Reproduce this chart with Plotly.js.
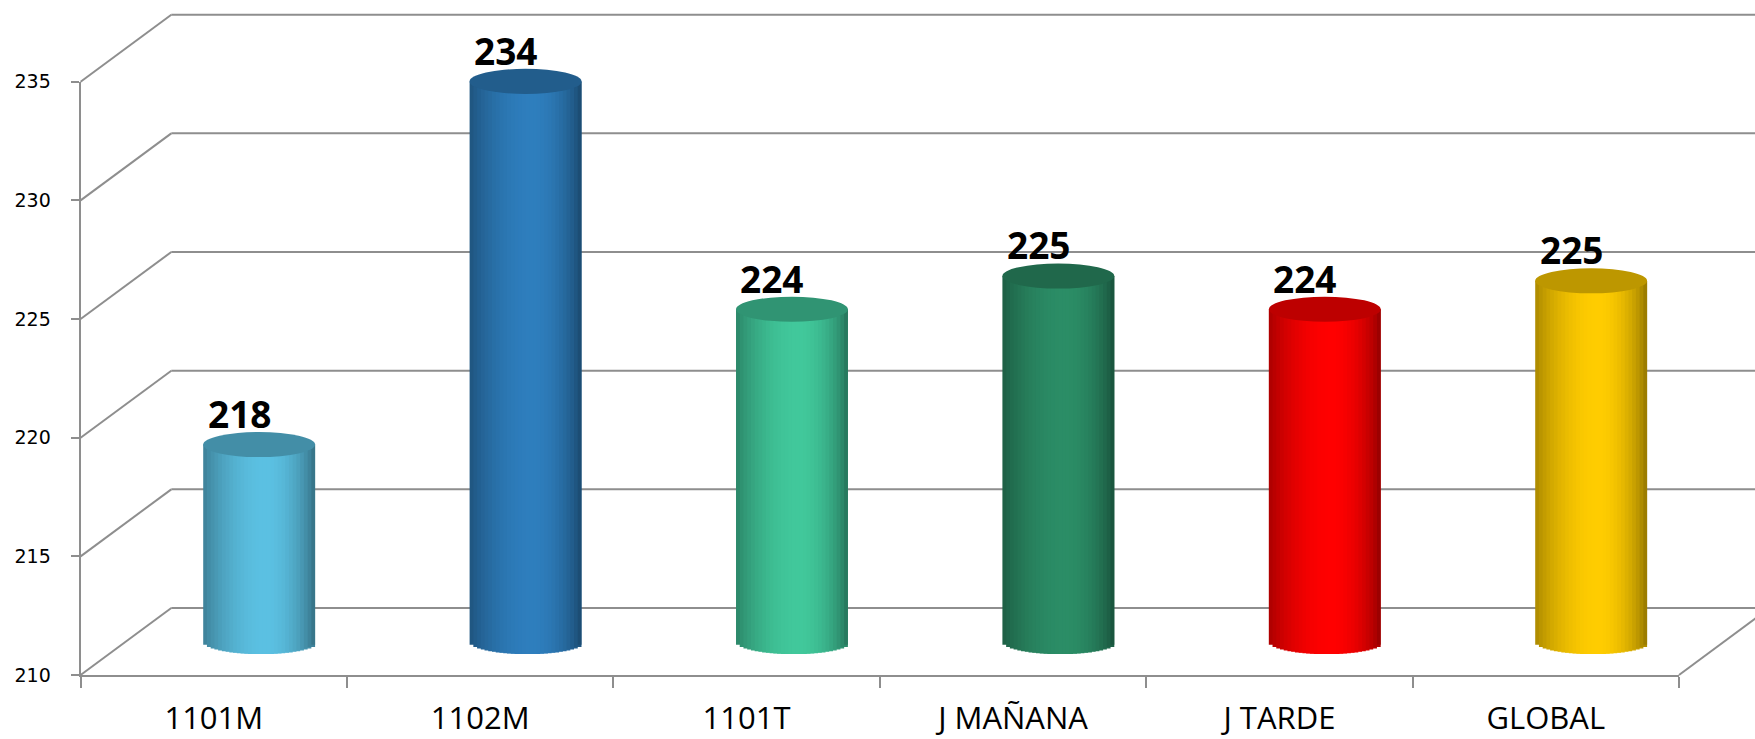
<!DOCTYPE html>
<html><head><meta charset="utf-8">
<script src="https://cdn.plot.ly/plotly-3.0.1.min.js"></script>
<style>html,body{margin:0;padding:0;background:#fff;overflow:hidden}#chart{width:1755px;height:739px}</style>
</head><body><div id="chart"></div>
<script>
// ---- data ----
const categories = ['1101M', '1102M', '1101T', 'J MAÑANA', 'J TARDE', 'GLOBAL'];
const values = [218.3, 233.6, 224.0, 225.4, 224.0, 225.2];
const barColors = ['#5BC0E2', '#2E7EBD', '#41C89B', '#2B8D66', '#FF0000', '#FFCC00'];
const yTicks = [210, 215, 220, 225, 230, 235];

// ---- geometry (pixels) ----
const W = 1755, H = 739;
const yMin = 210, yMax = 235;
const fx0 = 80.6, fx1 = 1679, fyB = 675, fyT = 81.7;   // front plane frame
const ppu = (fyB - fyT) / (yMax - yMin);
const depthDx = 90.7, depthDy = -67;                   // back wall offset
const midDx = depthDx / 2, midDy = depthDy / 2;        // cylinder plane offset
const px = x => x / W;
const py = y => 1 - y / H;
const yFront = v => fyB - (v - yMin) * ppu;
const y3Lo = 208, y3Hi = 236;
const y3Dom = [py(fyB + midDy + (yMin - y3Lo) * ppu), py(fyB + midDy - (y3Hi - yMin) * ppu)];

const cylW = 0.42;          // cylinder width in category units
const capH = 0.53;          // half height of the elliptical caps in value units
const N = 30;               // shading slices
const gridColor = '#8e8e8e';

function hexToRgb(h) { h = h.replace('#', ''); return [0, 2, 4].map(i => parseInt(h.substr(i, 2), 16)); }
function shade(hex, f) {
  const c = hexToRgb(hex).map(v => Math.max(0, Math.min(255, Math.round(v * f))));
  return 'rgb(' + c.join(',') + ')';
}
function profile(t) {
  const p = 0.56, fL = 0.66, fR = 0.55;
  if (t < p) { const u = t / p; return fL + (1 - fL) * Math.pow(Math.sin(u * Math.PI / 2), 0.8); }
  const u = (t - p) / (1 - p); return fR + (1 - fR) * Math.pow(Math.cos(u * Math.PI / 2), 0.7);
}

const traces = [];
// invisible trace so the front axes are drawn
traces.push({type: 'scatter', x: categories, y: values, xaxis: 'x', yaxis: 'y', mode: 'markers',
  marker: {opacity: 0}, hoverinfo: 'skip', showlegend: false});

for (let s = 0; s < N; s++) {
  const step = cylW / N;
  const off = -cylW / 2 + s * step;
  const cx = off + step / 2;
  const xn = cx / (cylW / 2);
  const base = yMin - capH * Math.sqrt(Math.max(0, 1 - xn * xn));
  const t = (s + 0.5) / N;
  traces.push({
    type: 'bar', x: categories, y: values.map(v => v - base), base: base,
    xaxis: 'x3', yaxis: 'y3', offset: off,
    width: Math.min(2 * step, cylW / 2 - off),
    marker: {color: barColors.map(c => shade(c, profile(t))), line: {width: 0}},
    hoverinfo: 'skip', showlegend: false
  });
}

const shapes = [];
const line = {color: gridColor, width: 2};
yTicks.forEach(v => {
  const yf = yFront(v), yb = yFront(v) + depthDy;
  shapes.push({type: 'line', xref: 'paper', yref: 'paper', x0: px(fx0 + depthDx), x1: 1.02, y0: py(yb), y1: py(yb), line, layer: 'below'});
  shapes.push({type: 'line', xref: 'paper', yref: 'paper', x0: px(fx0), x1: px(fx0 + depthDx), y0: py(yf), y1: py(yb), line, layer: 'below'});
});
shapes.push({type: 'line', xref: 'paper', yref: 'paper', x0: px(fx1), x1: px(fx1 + depthDx), y0: py(fyB), y1: py(fyB + depthDy), line, layer: 'below'});

values.forEach((v, i) => {
  shapes.push({type: 'circle', xref: 'x3', yref: 'y3', x0: i - cylW / 2, x1: i + cylW / 2,
    y0: v - capH, y1: v + capH, fillcolor: shade(barColors[i], 0.74), line: {width: 0}, layer: 'above'});
});

const annotations = values.map((v, i) => ({
  xref: 'x3', yref: 'y3', x: i, y: v + capH, text: String(Math.round(v)), showarrow: false,
  xanchor: 'center', yanchor: 'bottom', xshift: -20, yshift: -9,
  font: {family: 'Open Sans', size: 37, weight: 700, color: '#000'}
}));

const layout = {
  width: W, height: H, margin: {l: 0, r: 0, t: 0, b: 0},
  paper_bgcolor: '#fff', plot_bgcolor: 'rgba(0,0,0,0)',
  barmode: 'overlay', showlegend: false,
  xaxis: {domain: [px(fx0), px(fx1)], anchor: 'y', type: 'category', categoryorder: 'array',
    categoryarray: categories, range: [-0.5, categories.length - 0.5],
    showline: true, linecolor: gridColor, linewidth: 2, ticks: 'outside', tickson: 'boundaries',
    ticklen: 11, tickwidth: 2, tickcolor: gridColor, ticklabelstandoff: 15,
    tickfont: {family: 'Open Sans', size: 31, color: '#000'}, showgrid: false, zeroline: false, fixedrange: true},
  yaxis: {domain: [py(fyB), py(fyT)], anchor: 'x', range: [yMin, yMax], tickvals: yTicks,
    showline: true, linecolor: gridColor, linewidth: 2, ticks: 'outside', ticklen: 8, tickwidth: 2,
    tickcolor: gridColor, ticklabelstandoff: 16,
    tickfont: {family: 'DejaVu Sans', size: 19, color: '#000'}, showgrid: false, zeroline: false, fixedrange: true},
  xaxis3: {domain: [px(fx0 + midDx), px(fx1 + midDx)], anchor: 'y3', type: 'category', categoryorder: 'array',
    categoryarray: categories, range: [-0.5, categories.length - 0.5], visible: false, fixedrange: true},
  yaxis3: {domain: y3Dom, anchor: 'x3', range: [y3Lo, y3Hi], visible: false, fixedrange: true},
  shapes, annotations
};

Plotly.newPlot('chart', traces, layout, {displayModeBar: false, staticPlot: true});
</script>
</body></html>
